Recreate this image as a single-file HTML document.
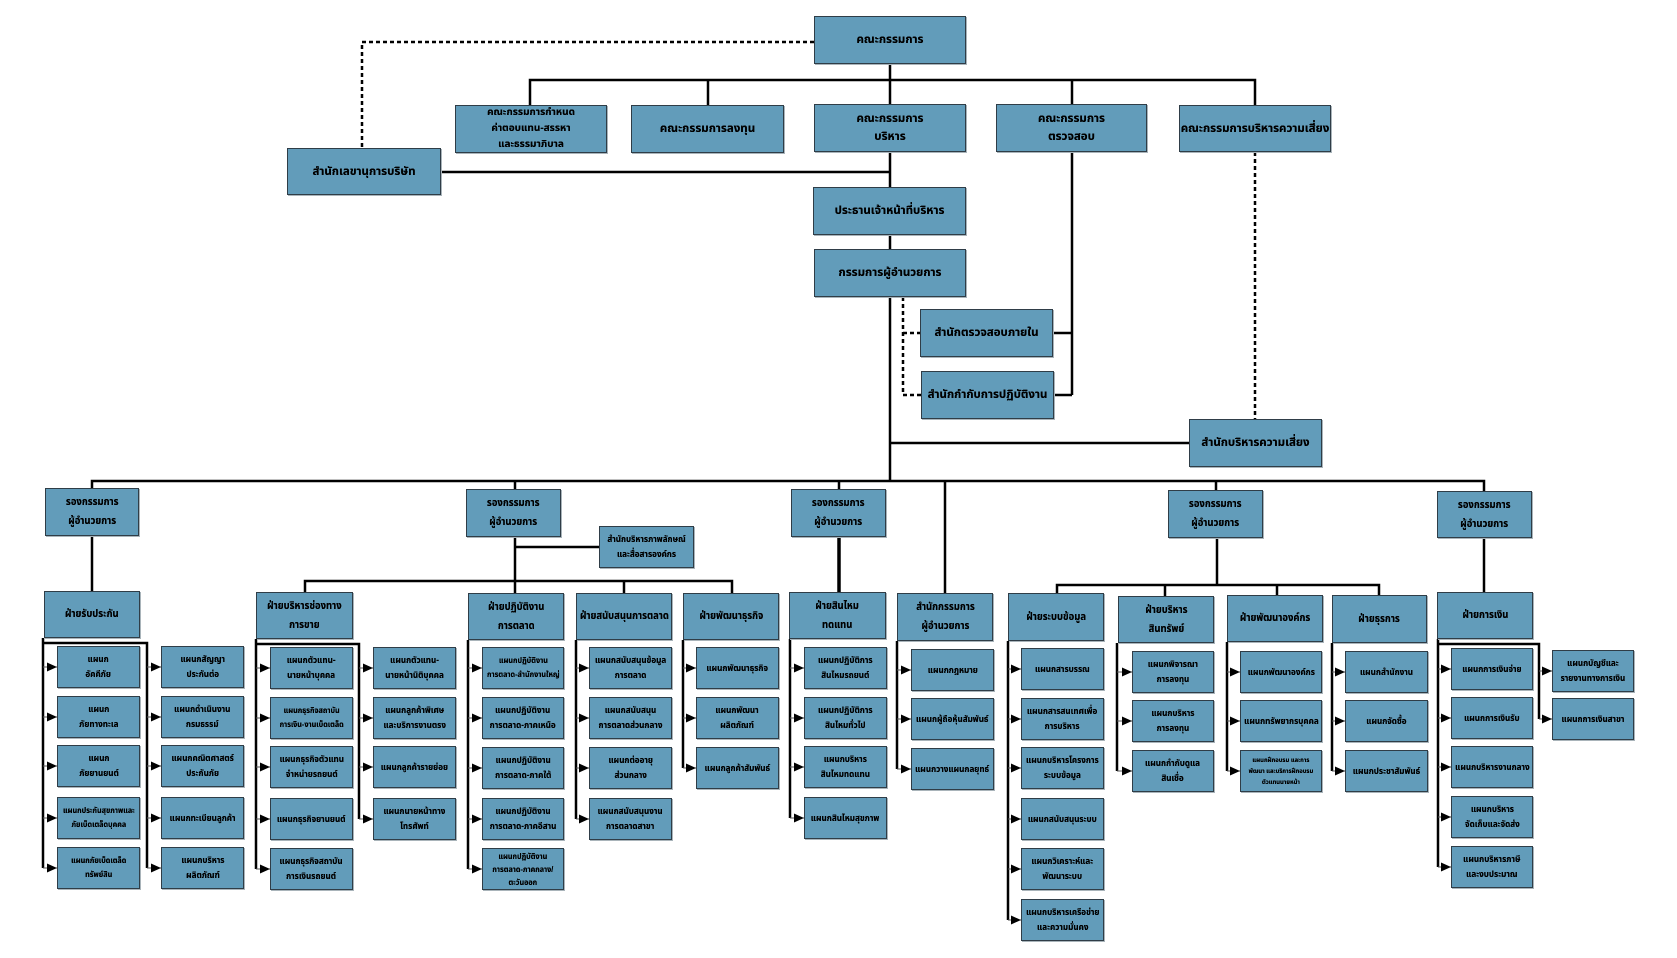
<!DOCTYPE html>
<html><head><meta charset="utf-8">
<style>
html,body{margin:0;padding:0;background:#fff;}
#c{position:relative;width:1677px;height:958px;overflow:hidden;background:#fff;}
svg{position:absolute;left:0;top:0;}
.b{position:absolute;box-sizing:border-box;background:#629cba;border:1px solid #2f3d47;box-shadow:1px 1px 0 #a9b4ba;display:flex;align-items:center;justify-content:center;text-align:center;color:#000;font-family:"Liberation Sans","Noto Sans Thai","Loma","Garuda","Tlwg Typo","Norasi","DejaVu Sans",sans-serif;font-weight:bold;white-space:nowrap;}
.t{font-size:11.5px;line-height:18px;}
.v{font-size:10.5px;line-height:19px;}
.d{font-size:9px;line-height:15px;}
.s{font-size:8px;line-height:14px;}
.x{font-size:6.5px;line-height:11px;}
.b span{display:inline-block;transform:scaleX(.9);text-shadow:0 0 0.3px #000;}
.t span{transform:none;}
</style></head><body><div id="c">
<svg width="1677" height="958" viewBox="0 0 1677 958">
<defs><marker id="a" markerUnits="userSpaceOnUse" markerWidth="12" markerHeight="12" refX="10" refY="6" orient="auto"><path d="M0,1.5 L10,6 L0,10.5 z" fill="#000"/></marker></defs>
<g fill="none" stroke="#000" stroke-width="2.5" stroke-dasharray="4 3">
<path d="M814 42 H362 V148"/>
<path d="M903 297 V395"/><path d="M903 333 H920"/><path d="M903 395 H921"/>
<path d="M1255 152 V419"/>
</g>
<g fill="none" stroke="#000" stroke-width="2.5">
<path d="M890 64 V104"/>
<path d="M530 105 V80 H1255 V105"/>
<path d="M708 80 V105"/><path d="M1072 80 V104"/>
<path d="M890 152 V187"/><path d="M441 172 H890"/>
<path d="M890 235 V249"/>
<path d="M890 297 V481"/>
<path d="M1072 152 V395"/><path d="M1053 333 H1072"/><path d="M1054 395 H1072"/>
<path d="M890 443 H1189"/>
<path d="M92 488 V481 H1484 V491"/>
<path d="M515 481 V489"/><path d="M839 481 V489"/><path d="M945 481 V593"/><path d="M1216 481 V490"/>
<path d="M92 536 V591"/>
<path d="M515 537 V593"/><path d="M515 547 H599"/><path d="M305 592 V581 H732 V593"/><path d="M624 581 V593"/>
<path d="M839 537 V592" stroke-width="3.5"/>
<path d="M1217 538 V585"/><path d="M1057 593 V585 H1379 V595"/><path d="M1165 585 V596"/><path d="M1277 585 V595"/>
<path d="M1484 538 V592"/>
<path d="M43 638 V868"/><path d="M43 643 H147 V868"/>
<path d="M256 639 V869"/><path d="M256 644 H359 V819"/>
<path d="M468 640 V869"/>
<path d="M576 640 V819"/>
<path d="M683 640 V768"/>
<path d="M790 639 V818"/>
<path d="M897 641 V769"/>
<path d="M1008 641 V920"/>
<path d="M1117 643 V771"/>
<path d="M1227 642 V771"/>
<path d="M1332 643 V771"/>
<path d="M1438 639 V867"/><path d="M1438 644 H1539 V719"/>
</g>
<g stroke="#555" stroke-width="1" marker-end="url(#a)">
<line x1="43" y1="667" x2="57" y2="667"/><line x1="43" y1="717" x2="57" y2="717"/><line x1="43" y1="766" x2="57" y2="766"/><line x1="43" y1="818" x2="57" y2="818"/><line x1="43" y1="868" x2="57" y2="868"/>
<line x1="147" y1="667" x2="161" y2="667"/><line x1="147" y1="717" x2="161" y2="717"/><line x1="147" y1="766" x2="161" y2="766"/><line x1="147" y1="818" x2="161" y2="818"/><line x1="147" y1="868" x2="161" y2="868"/>
<line x1="256" y1="668" x2="270" y2="668"/><line x1="256" y1="718" x2="270" y2="718"/><line x1="256" y1="767" x2="270" y2="767"/><line x1="256" y1="819" x2="270" y2="819"/><line x1="256" y1="869" x2="270" y2="869"/>
<line x1="359" y1="668" x2="373" y2="668"/><line x1="359" y1="718" x2="373" y2="718"/><line x1="359" y1="767" x2="373" y2="767"/><line x1="359" y1="819" x2="373" y2="819"/>
<line x1="468" y1="668" x2="482" y2="668"/><line x1="468" y1="718" x2="482" y2="718"/><line x1="468" y1="768" x2="482" y2="768"/><line x1="468" y1="819" x2="482" y2="819"/><line x1="468" y1="869" x2="482" y2="869"/>
<line x1="576" y1="668" x2="589" y2="668"/><line x1="576" y1="718" x2="589" y2="718"/><line x1="576" y1="768" x2="589" y2="768"/><line x1="576" y1="819" x2="589" y2="819"/>
<line x1="683" y1="668" x2="696" y2="668"/><line x1="683" y1="718" x2="696" y2="718"/><line x1="683" y1="768" x2="696" y2="768"/>
<line x1="790" y1="668" x2="804" y2="668"/><line x1="790" y1="718" x2="804" y2="718"/><line x1="790" y1="767" x2="804" y2="767"/><line x1="790" y1="818" x2="804" y2="818"/>
<line x1="897" y1="670" x2="911" y2="670"/><line x1="897" y1="719" x2="911" y2="719"/><line x1="897" y1="769" x2="911" y2="769"/>
<line x1="1008" y1="669" x2="1021" y2="669"/><line x1="1008" y1="719" x2="1021" y2="719"/><line x1="1008" y1="768" x2="1021" y2="768"/><line x1="1008" y1="819" x2="1021" y2="819"/><line x1="1008" y1="869" x2="1021" y2="869"/><line x1="1008" y1="920" x2="1021" y2="920"/>
<line x1="1117" y1="672" x2="1132" y2="672"/><line x1="1117" y1="721" x2="1132" y2="721"/><line x1="1117" y1="771" x2="1132" y2="771"/>
<line x1="1227" y1="672" x2="1240" y2="672"/><line x1="1227" y1="721" x2="1240" y2="721"/><line x1="1227" y1="771" x2="1240" y2="771"/>
<line x1="1332" y1="672" x2="1345" y2="672"/><line x1="1332" y1="721" x2="1345" y2="721"/><line x1="1332" y1="771" x2="1345" y2="771"/>
<line x1="1438" y1="669" x2="1451" y2="669"/><line x1="1438" y1="718" x2="1451" y2="718"/><line x1="1438" y1="767" x2="1451" y2="767"/><line x1="1438" y1="817" x2="1451" y2="817"/><line x1="1438" y1="867" x2="1451" y2="867"/>
<line x1="1539" y1="671" x2="1552" y2="671"/><line x1="1539" y1="719" x2="1552" y2="719"/>
</g>
</svg>

<!-- top level -->
<div class="b t" style="left:814px;top:16px;width:152px;height:48px"><span>คณะกรรมการ</span></div>
<div class="b t" style="left:455px;top:105px;width:152px;height:48px;line-height:16px;font-size:10px"><span>คณะกรรมการกำหนด<br>ค่าตอบแทน-สรรหา<br>และธรรมาภิบาล</span></div>
<div class="b t" style="left:631px;top:105px;width:153px;height:48px"><span>คณะกรรมการลงทุน</span></div>
<div class="b t" style="left:814px;top:104px;width:152px;height:48px"><span>คณะกรรมการ<br>บริหาร</span></div>
<div class="b t" style="left:996px;top:104px;width:151px;height:48px"><span>คณะกรรมการ<br>ตรวจสอบ</span></div>
<div class="b t" style="left:1179px;top:105px;width:152px;height:47px"><span>คณะกรรมการบริหารความเสี่ยง</span></div>
<div class="b t" style="left:287px;top:148px;width:154px;height:47px"><span>สำนักเลขานุการบริษัท</span></div>
<div class="b t" style="left:813px;top:187px;width:153px;height:48px"><span>ประธานเจ้าหน้าที่บริหาร</span></div>
<div class="b t" style="left:814px;top:249px;width:152px;height:48px"><span>กรรมการผู้อำนวยการ</span></div>
<div class="b t" style="left:920px;top:309px;width:133px;height:48px"><span>สำนักตรวจสอบภายใน</span></div>
<div class="b t" style="left:921px;top:371px;width:133px;height:48px"><span>สำนักกำกับการปฏิบัติงาน</span></div>
<div class="b t" style="left:1189px;top:419px;width:133px;height:48px"><span>สำนักบริหารความเสี่ยง</span></div>

<!-- VPs -->
<div class="b v" style="left:45px;top:488px;width:94px;height:48px"><span>รองกรรมการ<br>ผู้อำนวยการ</span></div>
<div class="b v" style="left:466px;top:489px;width:95px;height:48px"><span>รองกรรมการ<br>ผู้อำนวยการ</span></div>
<div class="b v" style="left:791px;top:489px;width:95px;height:48px"><span>รองกรรมการ<br>ผู้อำนวยการ</span></div>
<div class="b v" style="left:1168px;top:490px;width:95px;height:48px"><span>รองกรรมการ<br>ผู้อำนวยการ</span></div>
<div class="b v" style="left:1437px;top:491px;width:95px;height:47px"><span>รองกรรมการ<br>ผู้อำนวยการ</span></div>
<div class="b d" style="left:599px;top:526px;width:95px;height:42px"><span>สำนักบริหารภาพลักษณ์<br>และสื่อสารองค์กร</span></div>

<!-- divisions -->
<div class="b v" style="left:44px;top:591px;width:96px;height:47px"><span>ฝ่ายรับประกัน</span></div>
<div class="b v" style="left:256px;top:592px;width:97px;height:47px"><span>ฝ่ายบริหารช่องทาง<br>การขาย</span></div>
<div class="b v" style="left:468px;top:593px;width:96px;height:47px"><span>ฝ่ายปฏิบัติงาน<br>การตลาด</span></div>
<div class="b v" style="left:576px;top:593px;width:96px;height:47px"><span>ฝ่ายสนับสนุนการตลาด</span></div>
<div class="b v" style="left:683px;top:593px;width:96px;height:47px"><span>ฝ่ายพัฒนาธุรกิจ</span></div>
<div class="b v" style="left:789px;top:592px;width:97px;height:47px"><span>ฝ่ายสินไหม<br>ทดแทน</span></div>
<div class="b v" style="left:897px;top:593px;width:96px;height:48px"><span>สำนักกรรมการ<br>ผู้อำนวยการ</span></div>
<div class="b v" style="left:1008px;top:593px;width:96px;height:48px"><span>ฝ่ายระบบข้อมูล</span></div>
<div class="b v" style="left:1118px;top:596px;width:96px;height:47px"><span>ฝ่ายบริหาร<br>สินทรัพย์</span></div>
<div class="b v" style="left:1227px;top:595px;width:96px;height:47px"><span>ฝ่ายพัฒนาองค์กร</span></div>
<div class="b v" style="left:1332px;top:595px;width:95px;height:48px"><span>ฝ่ายธุรการ</span></div>
<div class="b v" style="left:1437px;top:592px;width:96px;height:47px"><span>ฝ่ายการเงิน</span></div>

<!-- underwriting -->
<div class="b d" style="left:57px;top:646px;width:83px;height:42px"><span>แผนก<br>อัคคีภัย</span></div>
<div class="b d" style="left:57px;top:696px;width:83px;height:42px"><span>แผนก<br>ภัยทางทะเล</span></div>
<div class="b d" style="left:57px;top:745px;width:83px;height:42px"><span>แผนก<br>ภัยยานยนต์</span></div>
<div class="b s" style="left:57px;top:797px;width:83px;height:42px"><span>แผนกประกันสุขภาพและ<br>ภัยเบ็ดเตล็ดบุคคล</span></div>
<div class="b s" style="left:57px;top:847px;width:83px;height:42px"><span>แผนกภัยเบ็ดเตล็ด<br>ทรัพย์สิน</span></div>
<div class="b d" style="left:161px;top:646px;width:83px;height:42px"><span>แผนกสัญญา<br>ประกันต่อ</span></div>
<div class="b d" style="left:161px;top:696px;width:83px;height:42px"><span>แผนกดำเนินงาน<br>กรมธรรม์</span></div>
<div class="b d" style="left:161px;top:745px;width:83px;height:42px"><span>แผนกคณิตศาสตร์<br>ประกันภัย</span></div>
<div class="b d" style="left:161px;top:797px;width:83px;height:42px"><span>แผนกทะเบียนลูกค้า</span></div>
<div class="b d" style="left:161px;top:847px;width:83px;height:42px"><span>แผนกบริหาร<br>ผลิตภัณฑ์</span></div>

<!-- sales -->
<div class="b d" style="left:270px;top:647px;width:83px;height:42px"><span>แผนกตัวแทน-<br>นายหน้าบุคคล</span></div>
<div class="b s" style="left:270px;top:697px;width:83px;height:42px"><span>แผนกธุรกิจสถาบัน<br>การเงิน-งานเบ็ดเตล็ด</span></div>
<div class="b d" style="left:270px;top:746px;width:83px;height:42px"><span>แผนกธุรกิจตัวแทน<br>จำหน่ายรถยนต์</span></div>
<div class="b d" style="left:270px;top:798px;width:83px;height:42px"><span>แผนกธุรกิจยานยนต์</span></div>
<div class="b d" style="left:270px;top:848px;width:83px;height:42px"><span>แผนกธุรกิจสถาบัน<br>การเงินรถยนต์</span></div>
<div class="b d" style="left:373px;top:647px;width:83px;height:42px"><span>แผนกตัวแทน-<br>นายหน้านิติบุคคล</span></div>
<div class="b d" style="left:373px;top:697px;width:83px;height:42px"><span>แผนกลูกค้าพิเศษ<br>และบริการงานตรง</span></div>
<div class="b d" style="left:373px;top:746px;width:83px;height:42px"><span>แผนกลูกค้ารายย่อย</span></div>
<div class="b d" style="left:373px;top:798px;width:83px;height:42px"><span>แผนกนายหน้าทาง<br>โทรศัพท์</span></div>

<!-- marketing ops -->
<div class="b s" style="left:482px;top:647px;width:82px;height:42px"><span>แผนกปฏิบัติงาน<br>การตลาด-สำนักงานใหญ่</span></div>
<div class="b d" style="left:482px;top:697px;width:82px;height:42px"><span>แผนกปฏิบัติงาน<br>การตลาด-ภาคเหนือ</span></div>
<div class="b d" style="left:482px;top:747px;width:82px;height:42px"><span>แผนกปฏิบัติงาน<br>การตลาด-ภาคใต้</span></div>
<div class="b d" style="left:482px;top:798px;width:82px;height:42px"><span>แผนกปฏิบัติงาน<br>การตลาด-ภาคอีสาน</span></div>
<div class="b s" style="left:482px;top:848px;width:82px;height:42px;line-height:13px"><span>แผนกปฏิบัติงาน<br>การตลาด-ภาคกลาง/<br>ตะวันออก</span></div>

<!-- marketing support -->
<div class="b d" style="left:589px;top:647px;width:83px;height:42px"><span>แผนกสนับสนุนข้อมูล<br>การตลาด</span></div>
<div class="b d" style="left:589px;top:697px;width:83px;height:42px"><span>แผนกสนับสนุน<br>การตลาดส่วนกลาง</span></div>
<div class="b d" style="left:589px;top:747px;width:83px;height:42px"><span>แผนกต่ออายุ<br>ส่วนกลาง</span></div>
<div class="b d" style="left:589px;top:798px;width:83px;height:42px"><span>แผนกสนับสนุนงาน<br>การตลาดสาขา</span></div>

<!-- biz dev -->
<div class="b d" style="left:696px;top:647px;width:83px;height:42px"><span>แผนกพัฒนาธุรกิจ</span></div>
<div class="b d" style="left:696px;top:697px;width:83px;height:42px"><span>แผนกพัฒนา<br>ผลิตภัณฑ์</span></div>
<div class="b d" style="left:696px;top:747px;width:83px;height:42px"><span>แผนกลูกค้าสัมพันธ์</span></div>

<!-- claims -->
<div class="b d" style="left:804px;top:647px;width:83px;height:42px"><span>แผนกปฏิบัติการ<br>สินไหมรถยนต์</span></div>
<div class="b d" style="left:804px;top:697px;width:83px;height:42px"><span>แผนกปฏิบัติการ<br>สินไหมทั่วไป</span></div>
<div class="b d" style="left:804px;top:746px;width:83px;height:42px"><span>แผนกบริหาร<br>สินไหมทดแทน</span></div>
<div class="b d" style="left:804px;top:797px;width:83px;height:42px"><span>แผนกสินไหมสุขภาพ</span></div>

<!-- office MD -->
<div class="b d" style="left:911px;top:649px;width:83px;height:42px"><span>แผนกกฎหมาย</span></div>
<div class="b d" style="left:911px;top:698px;width:83px;height:42px"><span>แผนกผู้ถือหุ้นสัมพันธ์</span></div>
<div class="b d" style="left:911px;top:748px;width:83px;height:42px"><span>แผนกวางแผนกลยุทธ์</span></div>

<!-- IT -->
<div class="b d" style="left:1021px;top:648px;width:83px;height:42px"><span>แผนกสารบรรณ</span></div>
<div class="b d" style="left:1021px;top:698px;width:83px;height:42px"><span>แผนกสารสนเทศเพื่อ<br>การบริหาร</span></div>
<div class="b d" style="left:1021px;top:747px;width:83px;height:42px"><span>แผนกบริหารโครงการ<br>ระบบข้อมูล</span></div>
<div class="b d" style="left:1021px;top:798px;width:83px;height:42px"><span>แผนกสนับสนุนระบบ</span></div>
<div class="b d" style="left:1021px;top:848px;width:83px;height:42px"><span>แผนกวิเคราะห์และ<br>พัฒนาระบบ</span></div>
<div class="b d" style="left:1021px;top:899px;width:83px;height:42px"><span>แผนกบริหารเครือข่าย<br>และความมั่นคง</span></div>

<!-- asset -->
<div class="b d" style="left:1132px;top:651px;width:82px;height:42px"><span>แผนกพิจารณา<br>การลงทุน</span></div>
<div class="b d" style="left:1132px;top:700px;width:82px;height:42px"><span>แผนกบริหาร<br>การลงทุน</span></div>
<div class="b d" style="left:1132px;top:750px;width:82px;height:42px"><span>แผนกกำกับดูแล<br>สินเชื่อ</span></div>

<!-- org dev -->
<div class="b d" style="left:1240px;top:651px;width:82px;height:42px"><span>แผนกพัฒนาองค์กร</span></div>
<div class="b d" style="left:1240px;top:700px;width:82px;height:42px"><span>แผนกทรัพยากรบุคคล</span></div>
<div class="b x" style="left:1240px;top:750px;width:82px;height:42px"><span>แผนกฝึกอบรม และการ<br>พัฒนา และบริการฝึกอบรม<br>ตัวแทนนายหน้า</span></div>

<!-- admin -->
<div class="b d" style="left:1345px;top:651px;width:83px;height:42px"><span>แผนกสำนักงาน</span></div>
<div class="b d" style="left:1345px;top:700px;width:83px;height:42px"><span>แผนกจัดซื้อ</span></div>
<div class="b d" style="left:1345px;top:750px;width:83px;height:42px"><span>แผนกประชาสัมพันธ์</span></div>

<!-- finance -->
<div class="b d" style="left:1451px;top:648px;width:82px;height:42px"><span>แผนกการเงินจ่าย</span></div>
<div class="b d" style="left:1451px;top:697px;width:82px;height:42px"><span>แผนกการเงินรับ</span></div>
<div class="b d" style="left:1451px;top:746px;width:82px;height:42px"><span>แผนกบริหารงานกลาง</span></div>
<div class="b d" style="left:1451px;top:796px;width:82px;height:42px"><span>แผนกบริหาร<br>จัดเก็บและจัดส่ง</span></div>
<div class="b d" style="left:1451px;top:846px;width:82px;height:42px"><span>แผนกบริหารภาษี<br>และงบประมาณ</span></div>
<div class="b d" style="left:1552px;top:650px;width:82px;height:42px"><span>แผนกบัญชีและ<br>รายงานทางการเงิน</span></div>
<div class="b d" style="left:1552px;top:698px;width:82px;height:42px"><span>แผนกการเงินสาขา</span></div>
</div></body></html>
